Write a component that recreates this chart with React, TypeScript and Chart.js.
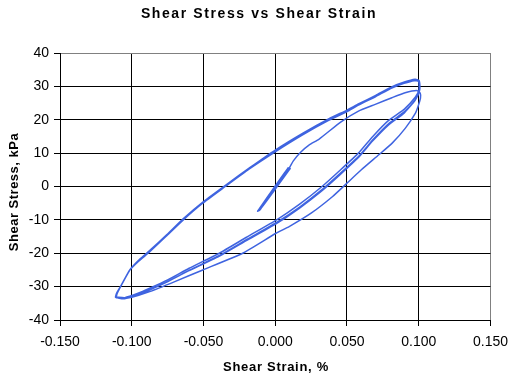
import { useEffect, useRef } from 'react';
import { Chart, registerables } from 'chart.js';

Chart.register(...registerables);

const FONT = 'Arial, "Liberation Sans", sans-serif';

const chartTitle = 'Shear Stress vs Shear Strain';
const xAxisTitle = 'Shear Strain, %';
const yAxisTitle = 'Shear Stress, kPa';

const xTickValues = [-0.15, -0.1, -0.05, 0, 0.05, 0.1, 0.15];
const xTickLabels = ['-0.150', '-0.100', '-0.050', '0.000', '0.050', '0.100', '0.150'];
const yTickValues = [-40, -30, -20, -10, 0, 10, 20, 30, 40];
const yTickLabels = ['-40', '-30', '-20', '-10', '0', '10', '20', '30', '40'];

// initial small cycles near origin
const initStrain = [0.0, 0.0097, -0.0116, 0.0104, -0.0109, 0.009, -0.0123, 0.0097];
const initStress = [0.0, 5.5, -7.3, 5.4, -7.2, 5.6, -7.4, 5.5];

// first loading (thin inner line)
const loadStrain = [0.0125, 0.0175, 0.0235, 0.0306, 0.0456, 0.058, 0.0697, 0.0813, 0.0905, 0.0986, 0.101];
const loadStress = [7.6, 10.2, 12.4, 14.2, 19.3, 22.6, 24.6, 26.6, 28.1, 28.8, 28.0];

// first unloading (thin outer line)
const unloadStrain = [0.1012, 0.0995, 0.0977, 0.0907, 0.0815, 0.0722, 0.06, 0.05, 0.04, 0.025, 0.0097, 0.0005, -0.0227, -0.0505, -0.07, -0.0875, -0.1, -0.107, -0.1113];
const unloadStress = [26.5, 24.0, 22.0, 17.5, 13.0, 9.5, 5.0, 1.0, -3.0, -8.0, -12.0, -14.0, -20.0, -25.0, -28.5, -31.5, -33.2, -33.6, -33.2];

// cycle 1
const up1Strain = [-0.1113, -0.1106, -0.1072, -0.1014, -0.095, -0.0875, -0.076, -0.0644, -0.0505, -0.0345, -0.018, 0.0, 0.019, 0.0375, 0.05, 0.0583, 0.07, 0.0815, 0.09, 0.097, 0.1];
const up1Stress = [-33.0, -32.0, -29.5, -25.0, -22.2, -19.5, -14.8, -10.0, -4.9, 0.2, 5.4, 10.6, 15.6, 20.0, 22.6, 24.6, 27.0, 29.6, 31.0, 31.8, 31.6];
const down1Strain = [0.1005, 0.1003, 0.0977, 0.09, 0.079, 0.068, 0.058, 0.045, 0.0326, 0.017, 0.001, -0.02, -0.039, -0.06, -0.075, -0.0875, -0.0956, -0.1049, -0.111];
const down1Stress = [30.5, 29.0, 26.8, 23.2, 19.8, 15.0, 10.0, 4.8, 0.0, -5.3, -10.0, -15.2, -20.0, -24.5, -28.0, -30.5, -32.0, -33.3, -33.1];

// cycle 2
const up2Strain = [-0.111, -0.11, -0.1068, -0.101, -0.0945, -0.087, -0.0755, -0.064, -0.05, -0.034, -0.0175, 0.0, 0.019, 0.0375, 0.05, 0.0583, 0.07, 0.0815, 0.09, 0.0975, 0.1002];
const up2Stress = [-33.2, -31.8, -29.2, -24.8, -21.8, -19.0, -14.4, -9.6, -4.5, 0.6, 5.7, 10.9, 15.9, 20.3, 22.9, 24.8, 27.3, 29.9, 31.3, 32.1, 31.8];
const down2Strain = [0.1008, 0.1005, 0.098, 0.0905, 0.0795, 0.0685, 0.0585, 0.0455, 0.033, 0.0175, 0.0015, -0.0195, -0.0385, -0.0595, -0.0745, -0.087, -0.0952, -0.1045, -0.1108];
const down2Stress = [30.2, 28.6, 26.2, 22.6, 19.0, 14.2, 9.2, 4.0, -0.8, -6.0, -10.6, -15.8, -20.6, -25.0, -28.4, -30.9, -32.3, -33.5, -33.3];

// cycle 3
const up3Strain = [-0.1108, -0.1103, -0.1075, -0.1018, -0.0952, -0.0878, -0.0762, -0.0648, -0.0508, -0.0348, -0.0183, 0.0, 0.0188, 0.0372, 0.0498, 0.058, 0.0698, 0.0812, 0.0898, 0.0968, 0.0998];
const up3Stress = [-33.3, -32.2, -29.8, -25.3, -22.4, -19.7, -15.0, -10.3, -5.1, 0.0, 5.2, 10.4, 15.4, 19.8, 22.4, 24.4, 26.9, 29.5, 30.9, 31.7, 31.5];
const down3Strain = [0.1003, 0.1, 0.0975, 0.0898, 0.0788, 0.0678, 0.0578, 0.0448, 0.0322, 0.0165, 0.0005, -0.0205, -0.0395, -0.0605, -0.0755, -0.088, -0.096, -0.105, -0.111];
const down3Stress = [30.0, 28.2, 25.8, 22.0, 18.4, 13.6, 8.6, 3.4, -1.4, -6.6, -11.2, -16.3, -21.0, -25.3, -28.6, -31.1, -32.5, -33.6, -33.2];

const segments: [number[], number[]][] = [
  [initStrain, initStress],
  [loadStrain, loadStress],
  [unloadStrain, unloadStress],
  [up1Strain, up1Stress],
  [down1Strain, down1Stress],
  [up2Strain, up2Stress],
  [down2Strain, down2Stress],
  [up3Strain, up3Stress],
  [down3Strain, down3Stress],
];

const points: { x: number; y: number }[] = [];
segments.forEach(([xs, ys]) => xs.forEach((x, i) => points.push({ x, y: ys[i] })));

const titlePlugin = {
  id: 'textTitles',
  afterDraw(chart: any) {
    const c = chart.ctx as CanvasRenderingContext2D;
    c.save();
    c.fillStyle = '#000';
    c.textAlign = 'center';
    c.textBaseline = 'middle';
    (c as any).letterSpacing = '1.6px';
    c.font = `bold 14px ${FONT}`;
    c.fillText(chartTitle, 259, 14);
    (c as any).letterSpacing = '0.7px';
    c.font = `bold 13px ${FONT}`;
    c.fillText(xAxisTitle, 276, 367);
    c.translate(14, 192);
    c.rotate(-Math.PI / 2);
    (c as any).letterSpacing = '0.5px';
    c.fillText(yAxisTitle, 0, 0);
    c.restore();
  },
};

export default function App() {
  const ref = useRef<HTMLCanvasElement>(null);
  useEffect(() => {
    document.body.style.margin = '0';
    const chart = new Chart(ref.current!, {
      type: 'scatter',
      data: {
        datasets: [
          {
            data: points,
            showLine: true,
            borderColor: '#3f64e0',
            backgroundColor: '#3f64e0',
            borderWidth: 1.5,
            pointRadius: 0,
            tension: 0.15,
            fill: false,
          } as any,
        ],
      },
      options: {
        responsive: false,
        animation: false,
        devicePixelRatio: 1,
        layout: { padding: { top: 53, right: 24, left: 0, bottom: 0 } },
        plugins: {
          legend: { display: false },
          tooltip: { enabled: false },
          title: { display: false },
        },
        scales: {
          x: {
            type: 'linear',
            min: -0.15,
            max: 0.15,
            afterBuildTicks: (s: any) => {
              s.ticks = xTickValues.map((v) => ({ value: v }));
            },
            afterFit: (s: any) => {
              s.height = 58;
            },
            ticks: {
              callback: (_v: any, i: number) => xTickLabels[i],
              font: { family: FONT, size: 14 },
              color: '#000',
              padding: 8,
              maxRotation: 0,
              autoSkip: false,
            },
            grid: {
              color: (ctx: any) => (ctx.tick && ctx.tick.value === 0.15 ? '#808080' : '#000'),
              lineWidth: 1,
              tickLength: 6,
              tickColor: '#000',
            },
            border: { color: '#000', width: 1 },
          },
          y: {
            type: 'linear',
            min: -40,
            max: 40,
            afterBuildTicks: (s: any) => {
              s.ticks = yTickValues.map((v) => ({ value: v }));
            },
            afterFit: (s: any) => {
              s.width = 60;
            },
            ticks: {
              callback: (_v: any, i: number) => yTickLabels[i],
              font: { family: FONT, size: 14 },
              color: '#000',
              padding: 5,
              autoSkip: false,
            },
            grid: {
              color: (ctx: any) => (ctx.tick && ctx.tick.value === 40 ? '#808080' : '#000'),
              lineWidth: 1,
              tickLength: 6,
              tickColor: '#000',
            },
            border: { color: '#000', width: 1 },
          },
        },
      } as any,
      plugins: [titlePlugin],
    });
    return () => chart.destroy();
  }, []);
  return (
    <div style={{ width: 516, height: 378 }}>
      <canvas ref={ref} width={516} height={378} style={{ display: 'block' }} />
    </div>
  );
}
